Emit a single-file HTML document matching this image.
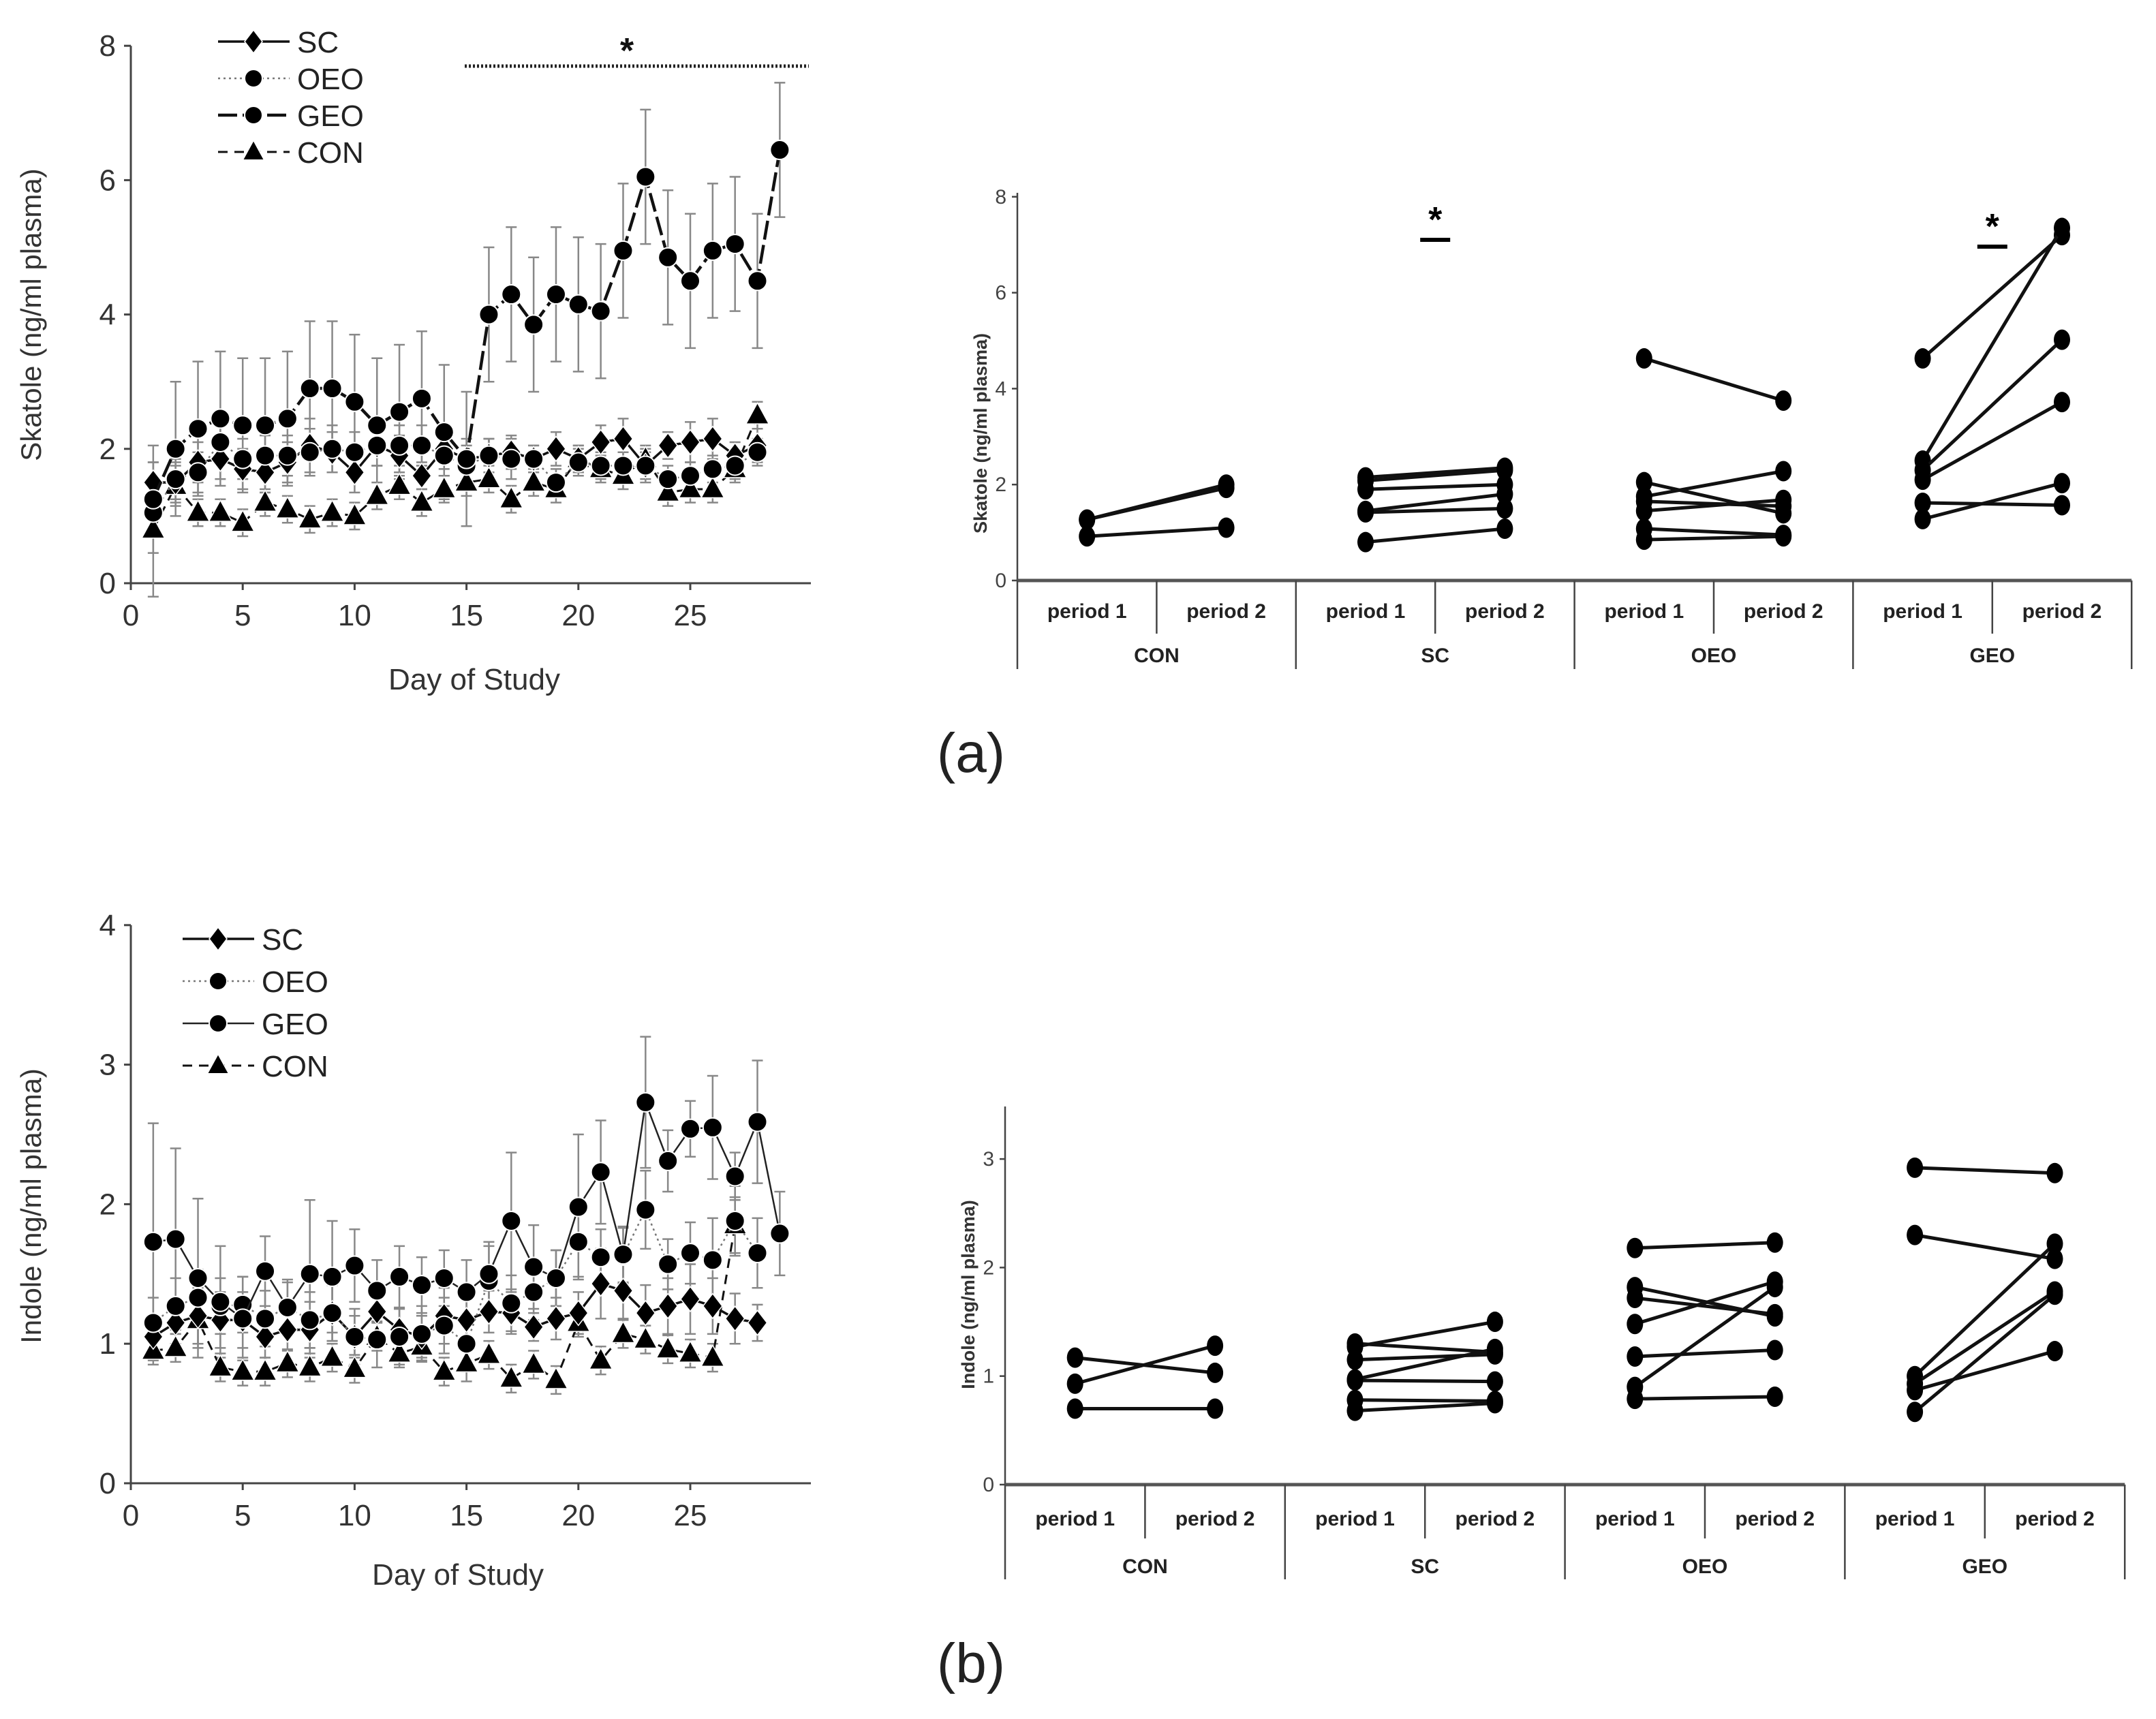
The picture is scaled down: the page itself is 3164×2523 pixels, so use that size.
<!DOCTYPE html>
<html><head><meta charset="utf-8"><style>
html,body{margin:0;padding:0;background:#fff;}
svg{display:block;font-family:"Liberation Sans",Arial,sans-serif;}
</style></head><body>
<svg id="fig" width="3164" height="2523" viewBox="0 0 3164 2523" xmlns="http://www.w3.org/2000/svg">
<g id="pA"></g>
<g id="pB"></g>
<g id="pC"></g>
<g id="pD"></g>
<text x="1425" y="1133" font-size="82" text-anchor="middle" fill="#222" font-family="Liberation Sans, sans-serif">(a)</text>
<text x="1425" y="2469" font-size="82" text-anchor="middle" fill="#222">(b)</text>
</svg>
<script>
// ---------- data ----------
const days = [1,2,3,4,5,6,7,8,9,10,11,12,13,14,15,16,17,18,19,20,21,22,23,24,25,26,27,28,29];
const skGEO = [1.25,2.0,2.3,2.45,2.35,2.35,2.45,2.9,2.9,2.7,2.35,2.55,2.75,2.25,1.85,4.0,4.3,3.85,4.3,4.15,4.05,4.95,6.05,4.85,4.5,4.95,5.05,4.5,6.45];
const skGEOerr = [0.8,1.0,1.0,1.0,1.0,1.0,1.0,1.0,1.0,1.0,1.0,1.0,1.0,1.0,1.0,1.0,1.0,1.0,1.0,1.0,1.0,1.0,1.0,1.0,1.0,1.0,1.0,1.0,1.0];
const skOEO = [1.05,1.55,1.65,2.1,1.85,1.9,1.9,1.95,2.0,1.95,2.05,2.05,2.05,1.9,1.75,1.9,1.85,1.85,1.5,1.8,1.75,1.75,1.75,1.55,1.6,1.7,1.75,1.95];
const skOEOerr = [0.3,0.3,0.3,0.3,0.3,0.3,0.3,0.35,0.35,0.3,0.3,0.3,0.3,0.3,0.3,0.25,0.3,0.2,0.2,0.2,0.2,0.2,0.2,0.2,0.2,0.2,0.2,0.2];
const skSC = [1.5,1.5,1.8,1.85,1.7,1.65,1.8,2.05,1.95,1.65,2.05,1.9,1.6,2.0,1.85,1.9,1.95,1.85,2.0,1.85,2.1,2.15,1.75,2.05,2.1,2.15,1.9,2.05];
const skSCerr = [0.3,0.3,0.3,0.3,0.3,0.3,0.3,0.4,0.3,0.3,0.3,0.3,0.2,0.3,0.3,0.25,0.25,0.2,0.25,0.2,0.25,0.3,0.25,0.2,0.3,0.3,0.2,0.25];
const skCON = [0.8,1.45,1.05,1.05,0.9,1.2,1.1,0.95,1.05,1.0,1.3,1.45,1.2,1.4,1.5,1.55,1.25,1.5,1.4,1.85,1.7,1.6,1.85,1.35,1.4,1.4,1.7,2.5];
const skCONerr = [1.0,0.3,0.2,0.2,0.2,0.2,0.2,0.2,0.2,0.2,0.2,0.2,0.2,0.2,0.2,0.2,0.2,0.2,0.2,0.2,0.2,0.2,0.2,0.2,0.2,0.2,0.2,0.2];

const inGEO = [1.73,1.75,1.47,1.3,1.18,1.52,1.26,1.5,1.48,1.56,1.38,1.48,1.42,1.47,1.37,1.5,1.88,1.55,1.47,1.98,2.23,1.64,2.73,2.31,2.54,2.55,2.2,2.59,1.79];
const inGEOerr = [0.85,0.65,0.57,0.4,0.3,0.25,0.2,0.53,0.4,0.26,0.22,0.22,0.2,0.2,0.23,0.23,0.49,0.3,0.2,0.52,0.37,0.2,0.47,0.22,0.2,0.37,0.17,0.44,0.3];
const inOEO = [1.15,1.27,1.33,1.27,1.28,1.18,1.26,1.17,1.22,1.05,1.03,1.05,1.07,1.13,1.0,1.45,1.29,1.37,1.47,1.73,1.62,1.63,1.96,1.57,1.65,1.6,1.88,1.65];
const inOEOerr = [0.18,0.2,0.2,0.2,0.2,0.2,0.18,0.2,0.2,0.2,0.2,0.2,0.2,0.2,0.2,0.25,0.2,0.2,0.2,0.25,0.2,0.2,0.28,0.18,0.22,0.3,0.25,0.25];
const inSC = [1.05,1.15,1.2,1.17,1.17,1.05,1.1,1.1,1.22,1.05,1.23,1.1,1.05,1.2,1.17,1.23,1.22,1.12,1.18,1.22,1.43,1.38,1.22,1.27,1.32,1.27,1.18,1.15];
const inSCerr = [0.15,0.15,0.2,0.2,0.2,0.15,0.15,0.2,0.2,0.15,0.2,0.15,0.15,0.2,0.2,0.15,0.15,0.1,0.15,0.15,0.25,0.2,0.2,0.2,0.25,0.2,0.18,0.13];
const inCON = [0.95,0.97,1.17,0.83,0.8,0.8,0.86,0.83,0.9,0.82,1.05,0.93,0.98,0.8,0.86,0.92,0.75,0.85,0.74,1.15,0.88,1.07,1.03,0.96,0.93,0.9,1.85];
const inCONerr = [0.1,0.1,0.2,0.1,0.1,0.1,0.1,0.1,0.1,0.1,0.1,0.1,0.1,0.1,0.13,0.1,0.1,0.1,0.1,0.1,0.1,0.1,0.1,0.1,0.1,0.1,0.2];

const groups = ["CON","SC","OEO","GEO"];
const periods = ["period 1","period 2"];
const skPairsCON = [[1.27,2.0],[1.27,1.93],[0.92,1.1]];
const skPairsSC = [[2.15,2.35],[2.08,2.3],[1.9,2.0],[1.45,1.8],[1.42,1.5],[0.8,1.08]];
const skPairsOEO = [[4.63,3.75],[2.05,1.4],[1.75,2.28],[1.65,1.55],[1.45,1.68],[1.08,0.95],[0.85,0.92]];
const skPairsGEO = [[4.63,7.2],[2.5,7.35],[2.3,5.02],[2.1,3.72],[1.62,1.57],[1.28,2.03]];
const inPairsCON = [[1.17,1.03],[0.93,1.28],[0.7,0.7]];
const inPairsSC = [[1.27,1.5],[1.3,1.22],[1.15,1.2],[0.97,1.25],[0.96,0.95],[0.78,0.77],[0.68,0.75]];
const inPairsOEO = [[2.18,2.23],[1.82,1.55],[1.72,1.57],[1.48,1.87],[1.18,1.24],[0.9,1.82],[0.79,0.81]];
const inPairsGEO = [[2.92,2.87],[2.3,2.08],[1.0,2.22],[0.93,1.78],[0.87,1.23],[0.67,1.75]];
const skYTicks = [0,2,4,6,8];
const inYTicks = [0,1,2,3,4];
const inYTicksR = [0,1,2,3];
const xTicks = [0,5,10,15,20,25];

// ---------- helpers ----------
const NS = "http://www.w3.org/2000/svg";
function mk(parent, tag, attrs, txt) {
  const e = document.createElementNS(NS, tag);
  for (const k in attrs) e.setAttribute(k, attrs[k]);
  if (txt !== undefined) e.textContent = txt;
  parent.appendChild(e);
  return e;
}
function marker(g, shape, x, y, r) {
  let e;
  if (shape === "circle") e = mk(g, "circle", {cx:x, cy:y, r:r, fill:"#000", stroke:"#fff", "stroke-width":2});
  else if (shape === "diamond") e = mk(g, "polygon", {points:`${x},${y-r*1.3} ${x+r},${y} ${x},${y+r*1.3} ${x-r},${y}`, fill:"#000", stroke:"#fff", "stroke-width":1.5});
  else e = mk(g, "polygon", {points:`${x},${y-r*1.3} ${x+r*1.2},${y+r*0.9} ${x-r*1.2},${y+r*0.9}`, fill:"#000", stroke:"#fff", "stroke-width":1.5});
  return e;
}

function timeChart(gid, cfg) {
  const g = document.getElementById(gid);
  const X0 = 192, DX = 32.84, Y0 = cfg.y0, PU = cfg.pu;
  const xs = d => X0 + d * DX;
  const ys = v => Y0 - v * PU;
  // axes
  let a = mk(g, "line", {x1:X0, y1:ys(cfg.yticks[cfg.yticks.length-1]), x2:X0, y2:Y0, stroke:"#444", "stroke-width":3});
  
  
  a = mk(g, "line", {x1:X0, y1:Y0, x2:1190, y2:Y0, stroke:"#444", "stroke-width":3});
  
  
  cfg.yticks.forEach(t => {
    mk(g, "line", {x1:X0-10, y1:ys(t), x2:X0, y2:ys(t), stroke:"#444", "stroke-width":3});
    const e = mk(g, "text", {x:X0-22, y:ys(t)+15, "font-size":44, "text-anchor":"end", fill:"#333"}, t);
    
    
  });
  xTicks.forEach(t => {
    mk(g, "line", {x1:xs(t), y1:Y0, x2:xs(t), y2:Y0+10, stroke:"#444", "stroke-width":3});
    const e = mk(g, "text", {x:xs(t), y:Y0+62, "font-size":44, "text-anchor":"middle", fill:"#333"}, t);
    
    
  });
  let t = mk(g, "text", {x:cfg.xtx, y:cfg.xty, "font-size":44, "text-anchor":"middle", fill:"#333"}, "Day of Study");
  
  
  t = mk(g, "text", {x:0, y:0, "font-size":42, "text-anchor":"middle", fill:"#333", transform:`translate(60,${cfg.ytY}) rotate(-90)`}, cfg.ytitle);
  
  
  // error bars
  cfg.series.forEach(s => {
    s.vals.forEach((v, i) => {
      const x = xs(days[i]), e = s.err[i];
      const eb = mk(g, "path", {d:`M${x},${ys(v-e)}V${ys(v+e)}M${x-8},${ys(v+e)}H${x+8}M${x-8},${ys(v-e)}H${x+8}`, stroke:"#888", "stroke-width":2.5, fill:"none"});
      
      
    });
  });
  // lines & markers
  cfg.series.forEach(s => {
    const pts = s.vals.map((v, i) => xs(days[i]) + "," + ys(v)).join(" ");
    const l = mk(g, "polyline", {points:pts, fill:"none", stroke:s.color, "stroke-width":s.w, "stroke-dasharray":s.dash});
    
    
    s.vals.forEach((v, i) => {
      const m = marker(g, s.shape, xs(days[i]), ys(v), 14);
      
      
    });
  });
  // legend
  cfg.series.slice().sort((p,q)=>p.lo-q.lo).forEach((s, k) => {
    const y = cfg.legY + k * cfg.legDY, x1 = cfg.legX;
    const lg = mk(g, "g", {});
    
    
    mk(lg, "line", {x1:x1, y1:y, x2:x1+105, y2:y, stroke:s.color, "stroke-width":s.w, "stroke-dasharray":s.dash});
    marker(lg, s.shape, x1+52, y, 13);
    mk(lg, "text", {x:x1+116, y:y+16, "font-size":44, fill:"#222"}, s.name);
  });
}

function periodChart(gid, cfg) {
  const g = document.getElementById(gid);
  const X0 = cfg.x0, BW = cfg.bw, Y0 = cfg.y0, PU = cfg.pu;
  const ys = v => Y0 - v * PU;
  const xc = (gi, pi) => X0 + (gi * 2 + pi + 0.5) * BW;
  let a = mk(g, "line", {x1:X0, y1:cfg.ytop, x2:X0, y2:Y0, stroke:"#444", "stroke-width":2.5});
  
  
  a = mk(g, "line", {x1:X0, y1:Y0, x2:X0 + 8*BW, y2:Y0, stroke:"#555", "stroke-width":5});
  
  
  cfg.yticks.forEach(t => {
    mk(g, "line", {x1:X0-8, y1:ys(t), x2:X0, y2:ys(t), stroke:"#444", "stroke-width":2.5});
    const e = mk(g, "text", {x:X0-16, y:ys(t)+10, "font-size":30, "text-anchor":"end", fill:"#444"}, t);
    
    
  });
  let t = mk(g, "text", {x:0, y:0, "font-size":27, "font-weight":"bold", "text-anchor":"middle", fill:"#333", transform:`translate(${X0-45},${cfg.ytY}) rotate(-90)`}, cfg.ytitle);
  
  
  for (let k = 0; k <= 8; k++) {
    const x = X0 + k * BW;
    mk(g, "line", {x1:x, y1:Y0, x2:x, y2:(k % 2 === 0) ? cfg.yEnd : cfg.yDiv, stroke:"#444", "stroke-width":2.5});
  }
  groups.forEach((gr, gi) => {
    periods.forEach((p, pi) => {
      const e = mk(g, "text", {x:xc(gi, pi), y:cfg.yP, "font-size":30, "font-weight":"bold", "text-anchor":"middle", fill:"#222"}, p);
      
      
    });
    const e = mk(g, "text", {x:X0 + (gi*2+1)*BW, y:cfg.yG, "font-size":30, "font-weight":"bold", "text-anchor":"middle", fill:"#222"}, gr);
    
    
    cfg.pairs[gi].forEach(pr => {
      const l = mk(g, "line", {x1:xc(gi,0), y1:ys(pr[0]), x2:xc(gi,1), y2:ys(pr[1]), stroke:"#111", "stroke-width":5});
      
      
      [0,1].forEach(pi => {
        const c = mk(g, "ellipse", {cx:xc(gi,pi), cy:ys(pr[pi]), rx:12, ry:15, fill:"#000"});
        
        
      });
    });
  });
  if (cfg.sig) cfg.sig.forEach(gi => {
    const x = X0 + (gi*2+1)*BW;
    const s = mk(g, "g", {});
    
    
    mk(s, "line", {x1:x-22, y1:cfg.sigY[gi], x2:x+22, y2:cfg.sigY[gi], stroke:"#000", "stroke-width":6});
    mk(s, "text", {x:x, y:cfg.sigY[gi]-12, "font-size":52, "font-weight":"bold", "text-anchor":"middle", fill:"#000"}, "*");
  });
}

timeChart("pA", {
  y0:856, pu:98.6, yticks:skYTicks, ytitle:"Skatole (ng/ml plasma)", ytY:462, xtx:696, xty:1012,
  legX:320, legY:61, legDY:54,
  series:[
    {name:"CON", lo:3, vals:skCON, err:skCONerr, shape:"tri", color:"#111", w:3, dash:"14 10"},
    {name:"SC", lo:0, vals:skSC, err:skSCerr, shape:"diamond", color:"#111", w:3.5, dash:""},
    {name:"OEO", lo:1, vals:skOEO, err:skOEOerr, shape:"circle", color:"#777", w:2.5, dash:"3 5"},
    {name:"GEO", lo:2, vals:skGEO, err:skGEOerr, shape:"circle", color:"#111", w:4.5, dash:"28 8"}
  ]
});
const star = mk(document.getElementById("pA"), "g", {});


mk(star, "line", {x1:682, y1:97, x2:1187, y2:97, stroke:"#222", "stroke-width":5, "stroke-dasharray":"3 3"});
mk(star, "text", {x:920, y:92, "font-size":52, "font-weight":"bold", "text-anchor":"middle", fill:"#111"}, "*");

timeChart("pC", {
  y0:2177, pu:204.8, yticks:inYTicks, ytitle:"Indole (ng/ml plasma)", ytY:1770, xtx:672, xty:2326,
  legX:268, legY:1378, legDY:62,
  series:[
    {name:"CON", lo:3, vals:inCON, err:inCONerr, shape:"tri", color:"#111", w:3, dash:"14 10"},
    {name:"SC", lo:0, vals:inSC, err:inSCerr, shape:"diamond", color:"#111", w:3.5, dash:""},
    {name:"OEO", lo:1, vals:inOEO, err:inOEOerr, shape:"circle", color:"#777", w:2.5, dash:"3 5"},
    {name:"GEO", lo:2, vals:inGEO, err:inGEOerr, shape:"circle", color:"#222", w:2.5, dash:""}
  ]
});

periodChart("pB", {
  x0:1493, bw:204.4, y0:852, pu:70.4, ytop:283, yticks:skYTicks, ytitle:"Skatole (ng/ml plasma)", ytY:636,
  yP:907, yG:972, yEnd:982, yDiv:930,
  pairs:[skPairsCON, skPairsSC, skPairsOEO, skPairsGEO], sig:[1,3], sigY:{1:352, 3:362}
});
periodChart("pD", {
  x0:1475, bw:205.4, y0:2179, pu:159.3, ytop:1624, yticks:inYTicksR, ytitle:"Indole (ng/ml plasma)", ytY:1900,
  yP:2239, yG:2309, yEnd:2318, yDiv:2258,
  pairs:[inPairsCON, inPairsSC, inPairsOEO, inPairsGEO]
});
</script>
</body></html>
